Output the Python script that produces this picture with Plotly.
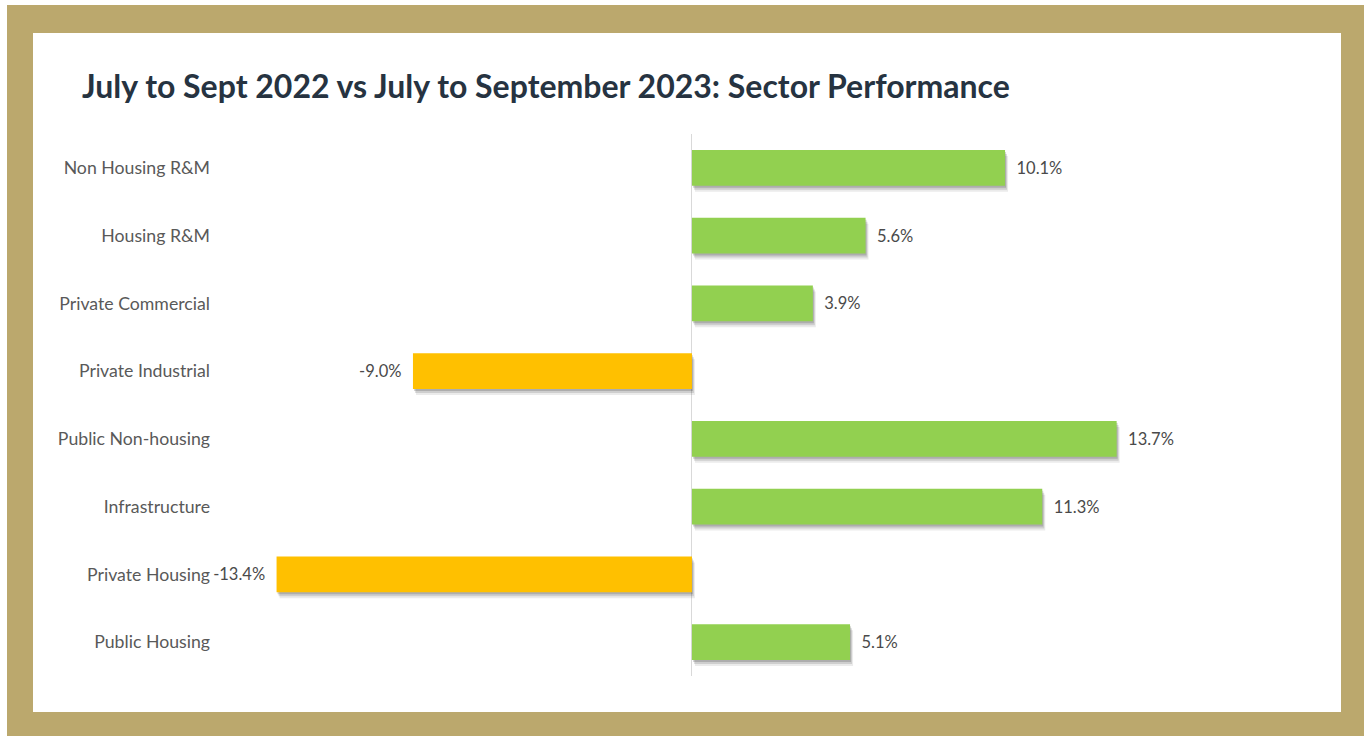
import plotly.graph_objects as go

# Sector performance, Jul-Sep 2023 vs Jul-Sep 2022 (% change)
sectors = [
    "Non Housing R&M",
    "Housing R&M",
    "Private Commercial",
    "Private Industrial",
    "Public Non-housing",
    "Infrastructure",
    "Private Housing",
    "Public Housing",
]
change_pct = [10.1, 5.6, 3.9, -9.0, 13.7, 11.3, -13.4, 5.1]

GREEN = "#92D050"
AMBER = "#FFC000"
GOLD = "#BBA86D"
bar_colors = [GREEN if v >= 0 else AMBER for v in change_pct]

W, H = 1371, 736
L, R, T, B = 222, 51, 134, 60
plot_w = W - L - R
plot_h = H - T - B

x_range = [-15.16, 20.26]
px_per_unit = plot_w / (x_range[1] - x_range[0])
bar_w = 0.53
step_px = plot_h / len(sectors)

GAP = "\u00a0\u00a0"


def label(v):
    s = f"{v:.1f}%"
    return GAP + s if v >= 0 else s + GAP


def px_x(p):
    return (p - L) / plot_w


def px_y(p):
    return (H - B - p) / plot_h


fig = go.Figure()

# soft drop shadow under each bar
for dx, dy, alpha in [(3, 6, 0.08), (2, 4, 0.12), (1, 2, 0.16)]:
    shift = dx / px_per_unit
    fig.add_trace(go.Bar(
        y=sectors,
        x=change_pct,
        base=shift,
        orientation="h",
        width=bar_w,
        offset=-bar_w / 2 + dy / step_px,
        marker=dict(color=f"rgba(0,0,0,{alpha})", line=dict(width=0)),
        hoverinfo="skip",
        showlegend=False,
    ))

fig.add_trace(go.Bar(
    y=sectors,
    x=change_pct,
    orientation="h",
    width=bar_w,
    marker=dict(color=bar_colors, line=dict(width=0)),
    text=[label(v) for v in change_pct],
    textposition="outside",
    constraintext="none",
    textfont=dict(family="Lato", size=16.5, color="#4a4a4a"),
    cliponaxis=False,
    showlegend=False,
))

# gold frame around the white panel
fig.add_shape(type="rect", xref="paper", yref="paper", layer="below",
              x0=px_x(7), x1=px_x(1364), y0=px_y(736), y1=px_y(5),
              fillcolor=GOLD, line=dict(width=0))
fig.add_shape(type="rect", xref="paper", yref="paper", layer="below",
              x0=px_x(33), x1=px_x(1341), y0=px_y(712), y1=px_y(33),
              fillcolor="white", line=dict(width=0))

fig.update_layout(
    width=W,
    height=H,
    margin=dict(l=L, r=R, t=T, b=B, autoexpand=False),
    paper_bgcolor="white",
    plot_bgcolor="rgba(0,0,0,0)",
    barmode="overlay",
    title=dict(
        text="<b>July to Sept 2022 vs July to September 2023: Sector Performance</b>",
        font=dict(family="Lato", size=32, color="#263341"),
        x=82 / W, xanchor="left",
        y=1 - 87 / H, yanchor="middle",
    ),
    xaxis=dict(
        range=x_range,
        showgrid=False,
        showticklabels=False,
        zeroline=True,
        zerolinecolor="#d9d9d9",
        zerolinewidth=1,
        fixedrange=True,
    ),
    yaxis=dict(
        categoryorder="array",
        categoryarray=sectors,
        autorange="reversed",
        showgrid=False,
        ticks="",
        ticklabelstandoff=11,
        tickfont=dict(family="Lato", size=17.7, color="#595959"),
    ),
    showlegend=False,
)

fig.write_html("out.html")
